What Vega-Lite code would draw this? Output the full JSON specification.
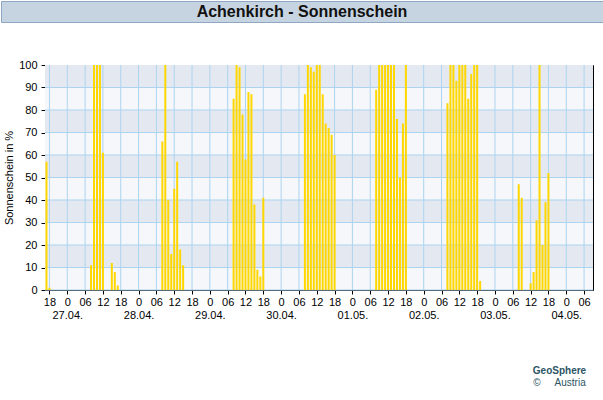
{
  "$schema": "https://vega.github.io/schema/vega-lite/v6.json",
  "padding": 0,
  "background": "white",
  "config": {
    "font": "Liberation Sans",
    "view": {"stroke": null},
    "axis": {
      "domainColor": "#000000",
      "tickColor": "#000000",
      "labelColor": "#000000",
      "titleColor": "#000000",
      "labelFontSize": 11,
      "titleFontSize": 11,
      "titleFontWeight": "normal",
      "labelFont": "Liberation Sans",
      "titleFont": "Liberation Sans",
      "grid": false,
      "tickSize": 4,
      "zindex": 1
    }
  },
  "title": {
    "text": "GeoSphere",
    "subtitle": "©\u00a0\u00a0\u00a0\u00a0\u00a0Austria\u00a0\u00a0\u00a0\u00a0\u00a0\u00a0\u00a0\u00a0",
    "orient": "bottom",
    "anchor": "end",
    "align": "center",
    "dx": -44,
    "offset": 46,
    "font": "Liberation Sans",
    "fontSize": 10,
    "fontWeight": "bold",
    "color": "#2b5563",
    "subtitleFont": "Liberation Sans",
    "subtitleFontSize": 10,
    "subtitleColor": "#2b5563",
    "subtitlePadding": 2
  },
  "datasets": {
    "sun": [
      {"time": "2025-04-26T17:00:00Z", "value": 57},
      {"time": "2025-04-26T18:00:00Z", "value": 1},
      {"time": "2025-04-27T08:00:00Z", "value": 11},
      {"time": "2025-04-27T09:00:00Z", "value": 100},
      {"time": "2025-04-27T10:00:00Z", "value": 100},
      {"time": "2025-04-27T11:00:00Z", "value": 100},
      {"time": "2025-04-27T12:00:00Z", "value": 61},
      {"time": "2025-04-27T15:00:00Z", "value": 12},
      {"time": "2025-04-27T16:00:00Z", "value": 8},
      {"time": "2025-04-27T17:00:00Z", "value": 2},
      {"time": "2025-04-28T08:00:00Z", "value": 66},
      {"time": "2025-04-28T09:00:00Z", "value": 100},
      {"time": "2025-04-28T10:00:00Z", "value": 40},
      {"time": "2025-04-28T11:00:00Z", "value": 16},
      {"time": "2025-04-28T12:00:00Z", "value": 45},
      {"time": "2025-04-28T13:00:00Z", "value": 57},
      {"time": "2025-04-28T14:00:00Z", "value": 18},
      {"time": "2025-04-28T15:00:00Z", "value": 11},
      {"time": "2025-04-29T08:00:00Z", "value": 85},
      {"time": "2025-04-29T09:00:00Z", "value": 100},
      {"time": "2025-04-29T10:00:00Z", "value": 99},
      {"time": "2025-04-29T11:00:00Z", "value": 78},
      {"time": "2025-04-29T12:00:00Z", "value": 58},
      {"time": "2025-04-29T13:00:00Z", "value": 88},
      {"time": "2025-04-29T14:00:00Z", "value": 87},
      {"time": "2025-04-29T15:00:00Z", "value": 38},
      {"time": "2025-04-29T16:00:00Z", "value": 9},
      {"time": "2025-04-29T17:00:00Z", "value": 6},
      {"time": "2025-04-29T18:00:00Z", "value": 41},
      {"time": "2025-04-30T08:00:00Z", "value": 87},
      {"time": "2025-04-30T09:00:00Z", "value": 100},
      {"time": "2025-04-30T10:00:00Z", "value": 99},
      {"time": "2025-04-30T11:00:00Z", "value": 97},
      {"time": "2025-04-30T12:00:00Z", "value": 100},
      {"time": "2025-04-30T13:00:00Z", "value": 100},
      {"time": "2025-04-30T14:00:00Z", "value": 87},
      {"time": "2025-04-30T15:00:00Z", "value": 74},
      {"time": "2025-04-30T16:00:00Z", "value": 72},
      {"time": "2025-04-30T17:00:00Z", "value": 69},
      {"time": "2025-04-30T18:00:00Z", "value": 60},
      {"time": "2025-05-01T08:00:00Z", "value": 89},
      {"time": "2025-05-01T09:00:00Z", "value": 100},
      {"time": "2025-05-01T10:00:00Z", "value": 100},
      {"time": "2025-05-01T11:00:00Z", "value": 100},
      {"time": "2025-05-01T12:00:00Z", "value": 100},
      {"time": "2025-05-01T13:00:00Z", "value": 100},
      {"time": "2025-05-01T14:00:00Z", "value": 100},
      {"time": "2025-05-01T15:00:00Z", "value": 76},
      {"time": "2025-05-01T16:00:00Z", "value": 50},
      {"time": "2025-05-01T17:00:00Z", "value": 74},
      {"time": "2025-05-01T18:00:00Z", "value": 100},
      {"time": "2025-05-02T08:00:00Z", "value": 83},
      {"time": "2025-05-02T09:00:00Z", "value": 100},
      {"time": "2025-05-02T10:00:00Z", "value": 100},
      {"time": "2025-05-02T11:00:00Z", "value": 93},
      {"time": "2025-05-02T12:00:00Z", "value": 100},
      {"time": "2025-05-02T13:00:00Z", "value": 100},
      {"time": "2025-05-02T14:00:00Z", "value": 100},
      {"time": "2025-05-02T15:00:00Z", "value": 85},
      {"time": "2025-05-02T16:00:00Z", "value": 96},
      {"time": "2025-05-02T17:00:00Z", "value": 100},
      {"time": "2025-05-02T18:00:00Z", "value": 100},
      {"time": "2025-05-02T19:00:00Z", "value": 4},
      {"time": "2025-05-03T08:00:00Z", "value": 47},
      {"time": "2025-05-03T09:00:00Z", "value": 41},
      {"time": "2025-05-03T12:00:00Z", "value": 3},
      {"time": "2025-05-03T13:00:00Z", "value": 8},
      {"time": "2025-05-03T14:00:00Z", "value": 31},
      {"time": "2025-05-03T15:00:00Z", "value": 100},
      {"time": "2025-05-03T16:00:00Z", "value": 20},
      {"time": "2025-05-03T17:00:00Z", "value": 39},
      {"time": "2025-05-03T18:00:00Z", "value": 52}
    ],
    "bands": [
      {"lo": 0, "hi": 10, "shade": "light"},
      {"lo": 10, "hi": 20, "shade": "dark"},
      {"lo": 20, "hi": 30, "shade": "light"},
      {"lo": 30, "hi": 40, "shade": "dark"},
      {"lo": 40, "hi": 50, "shade": "light"},
      {"lo": 50, "hi": 60, "shade": "dark"},
      {"lo": 60, "hi": 70, "shade": "light"},
      {"lo": 70, "hi": 80, "shade": "dark"},
      {"lo": 80, "hi": 90, "shade": "light"},
      {"lo": 90, "hi": 100, "shade": "dark"}
    ],
    "gridtimes": [
      {"time": "2025-04-26T18:00:00Z"},
      {"time": "2025-04-27T00:00:00Z"}, {"time": "2025-04-27T06:00:00Z"}, {"time": "2025-04-27T12:00:00Z"}, {"time": "2025-04-27T18:00:00Z"},
      {"time": "2025-04-28T00:00:00Z"}, {"time": "2025-04-28T06:00:00Z"}, {"time": "2025-04-28T12:00:00Z"}, {"time": "2025-04-28T18:00:00Z"},
      {"time": "2025-04-29T00:00:00Z"}, {"time": "2025-04-29T06:00:00Z"}, {"time": "2025-04-29T12:00:00Z"}, {"time": "2025-04-29T18:00:00Z"},
      {"time": "2025-04-30T00:00:00Z"}, {"time": "2025-04-30T06:00:00Z"}, {"time": "2025-04-30T12:00:00Z"}, {"time": "2025-04-30T18:00:00Z"},
      {"time": "2025-05-01T00:00:00Z"}, {"time": "2025-05-01T06:00:00Z"}, {"time": "2025-05-01T12:00:00Z"}, {"time": "2025-05-01T18:00:00Z"},
      {"time": "2025-05-02T00:00:00Z"}, {"time": "2025-05-02T06:00:00Z"}, {"time": "2025-05-02T12:00:00Z"}, {"time": "2025-05-02T18:00:00Z"},
      {"time": "2025-05-03T00:00:00Z"}, {"time": "2025-05-03T06:00:00Z"}, {"time": "2025-05-03T12:00:00Z"}, {"time": "2025-05-03T18:00:00Z"},
      {"time": "2025-05-04T00:00:00Z"}, {"time": "2025-05-04T06:00:00Z"}
    ]
  },
  "spacing": 36,
  "vconcat": [
    {
      "width": 602,
      "height": 21,
      "view": {"fill": "#c6d4e1", "stroke": "#8ea7c3", "strokeWidth": 1},
      "data": {"values": [{"label": "Achenkirch - Sonnenschein"}]},
      "mark": {"type": "text", "font": "Liberation Sans", "fontSize": 16, "fontWeight": "bold", "color": "#111111"},
      "encoding": {"text": {"field": "label", "type": "nominal"}}
    },
    {
      "width": 592,
      "height": 225,
      "resolve": {"axis": {"x": "independent", "y": "independent"}},
      "layer": [
        {
          "data": {"name": "bands"},
          "mark": {"type": "rect"},
          "encoding": {
            "x": {"datum": 1745685000000, "type": "temporal", "axis": null},
            "x2": {"datum": 1746349200000},
            "y": {"field": "lo", "type": "quantitative", "scale": {"domain": [0, 100], "nice": false}, "axis": null},
            "y2": {"field": "hi"},
            "color": {"field": "shade", "type": "nominal", "scale": {"domain": ["light", "dark"], "range": ["#f5f7fa", "#e4e9f1"]}, "legend": null}
          }
        },
        {
          "data": {"name": "gridtimes"},
          "mark": {"type": "rule", "color": "#acd4f0", "strokeWidth": 1},
          "encoding": {
            "x": {
              "field": "time",
              "type": "temporal",
              "scale": {"type": "utc"},
              "axis": {"orient": "top", "labels": false, "ticks": false, "domain": true, "title": null, "grid": false}
            }
          }
        },
        {
          "data": {"name": "bands"},
          "mark": {"type": "rule", "color": "#acd4f0", "strokeWidth": 1},
          "encoding": {
            "x": {"datum": 1745685000000, "type": "temporal", "axis": null},
            "x2": {"datum": 1746349200000},
            "y": {
              "field": "lo",
              "type": "quantitative",
              "axis": {"orient": "right", "labels": false, "ticks": false, "domain": true, "title": null, "grid": false}
            }
          }
        },
        {
          "data": {"name": "sun"},
          "mark": {"type": "bar", "size": 2, "color": "#ffd700"},
          "encoding": {
            "x": {
              "field": "time",
              "type": "temporal",
              "title": null,
              "scale": {"type": "utc", "domain": [1745685000000, 1746349200000], "range": [44, 592], "nice": false, "padding": 0},
              "axis": {
                "orient": "bottom",
                "values": [1745690400000, 1745712000000, 1745733600000, 1745755200000, 1745776800000, 1745798400000, 1745820000000, 1745841600000, 1745863200000, 1745884800000, 1745906400000, 1745928000000, 1745949600000, 1745971200000, 1745992800000, 1746014400000, 1746036000000, 1746057600000, 1746079200000, 1746100800000, 1746122400000, 1746144000000, 1746165600000, 1746187200000, 1746208800000, 1746230400000, 1746252000000, 1746273600000, 1746295200000, 1746316800000, 1746338400000],
                "tickCount": 40,
                "labelExpr": "utchours(datum.value) == 0 ? ['0', utcFormat(datum.value, '%d.%m.')] : utcFormat(datum.value, '%H')",
                "labelLineHeight": 13,
                "labelPadding": 2,
                "labelFlush": false,
                "labelOverlap": false
              }
            },
            "y": {
              "field": "value",
              "type": "quantitative",
              "title": "Sonnenschein in %",
              "scale": {"domain": [0, 100], "nice": false},
              "axis": {
                "orient": "left",
                "offset": -44,
                "values": [0, 10, 20, 30, 40, 50, 60, 70, 80, 90, 100],
                "tickCount": 11,
                "labelOverlap": false,
                "labelPadding": 4,
                "titlePadding": 4
              }
            }
          }
        }
      ]
    }
  ]
}
